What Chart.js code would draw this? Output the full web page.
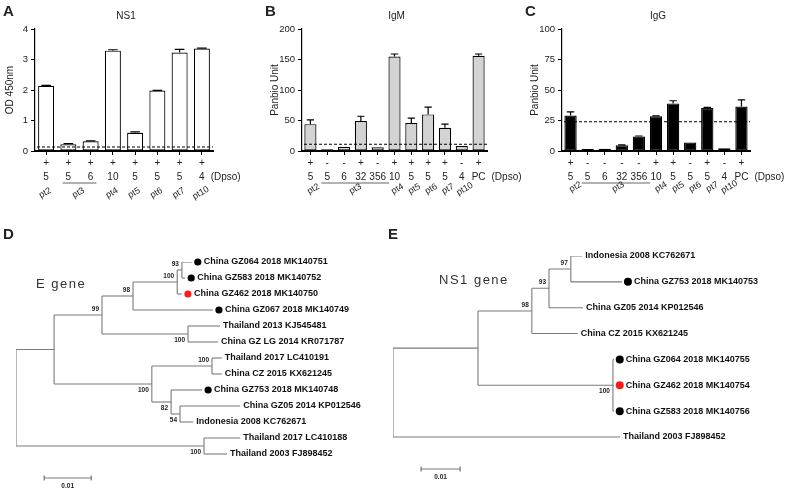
<!DOCTYPE html>
<html>
<head>
<meta charset="utf-8">
<script src="https://cdn.jsdelivr.net/npm/chart.js@4.4.0/dist/chart.umd.min.js"></script>
<style>
  body { margin: 0; background: #fff; width: 789px; height: 492px; position: relative; overflow: hidden; }
  canvas { position: absolute; }
</style>
</head>
<body>
<canvas id="chartA" width="262" height="215" style="left:0;top:0"></canvas>
<canvas id="chartB" width="275" height="215" style="left:262px;top:0"></canvas>
<canvas id="chartC" width="267" height="215" style="left:522px;top:0"></canvas>
<canvas id="treeD" width="390" height="272" style="left:0;top:220px"></canvas>
<canvas id="treeE" width="402" height="272" style="left:387px;top:220px"></canvas>
<script>
const FONT = '"Liberation Sans", Arial, sans-serif';
Chart.defaults.font.family = FONT;
Chart.defaults.color = '#222';

// ---- A: NS1 ----
const nsPatients = ['pt2', 'pt3', 'pt3', 'pt4', 'pt5', 'pt6', 'pt7', 'pt10'];
const nsDays = ['5', '5', '6', '10', '5', '5', '5', '4'];
const nsSigns = ['+', '+', '+', '+', '+', '+', '+', '+'];
const nsOD = [2.14, 0.22, 0.32, 3.29, 0.6, 1.98, 3.23, 3.36];
const nsErr = [0.01, 0.02, 0.01, 0.03, 0.03, 0.01, 0.1, 0.01];
const nsCutoff = 0.13;

// ---- B / C: antibodies ----
const abPatients = ['pt2', 'pt3', 'pt3', 'pt3', 'pt3', 'pt4', 'pt5', 'pt6', 'pt7', 'pt10', ''];
const abDays = ['5', '5', '6', '32', '356', '10', '5', '5', '5', '4', 'PC'];
const igmSigns = ['+', '-', '-', '+', '-', '+', '+', '+', '+', '-', '+'];
const igmUnits = [44, 3, 7, 49, 6, 155, 46, 60, 38, 8, 156];
const igmErr = [7, 0, 0, 8, 0, 4, 8, 12, 6, 0, 3];
const igmCutoff = 11;

const iggSigns = ['+', '-', '-', '-', '-', '+', '+', '-', '+', '-', '+'];
const iggUnits = [29, 1.6, 1.9, 4.7, 11.8, 28.5, 39, 7, 35.3, 2.2, 36.4];
const iggErr = [3, 0, 0, 0.3, 0.5, 0.3, 2.2, 0, 0.5, 0, 5.5];
const iggCutoff = 24;

// ---- D: E gene tree (leaves top to bottom, then internal nodes) ----
const eLeaves = ['China GZ064 2018 MK140751', 'China GZ583 2018 MK140752', 'China GZ462 2018 MK140750',
  'China GZ067 2018 MK140749', 'Thailand 2013 KJ545481', 'China GZ LG 2014 KR071787',
  'Thailand 2017 LC410191', 'China CZ 2015 KX621245', 'China GZ753 2018 MK140748',
  'China GZ05 2014 KP012546', 'Indonesia 2008 KC762671', 'Thailand 2017 LC410188', 'Thailand 2003 FJ898452'];
const eLeafMark = ['case', 'case', 'index', 'case', '', '', '', '', 'case', '', '', '', ''];
const eLeafDepth = [0.0374, 0.0360, 0.0353, 0.0419, 0.0434, 0.0430, 0.0438, 0.0438, 0.0396, 0.0477, 0.0377, 0.0477, 0.0449];
const eLeafParent = [18, 18, 17, 16, 19, 19, 21, 21, 22, 23, 23, 24, 24];
const eNodeDepth = [0, 0.0081, 0.0183, 0.0249, 0.0343, 0.0353, 0.0366, 0.0289, 0.0417, 0.0330, 0.0349, 0.0400];
const eNodeParent = [-1, 13, 14, 15, 16, 17, 15, 14, 20, 20, 22, 13];
const eBoot = [null, null, 99, 98, 100, 93, 100, 100, 100, 82, 54, 100];
const eBootSide = [0, 0, -1, -1, -1, -1, 1, 1, -1, 1, 1, 1];

// ---- E: NS1 gene tree ----
const nLeaves = ['Indonesia 2008 KC762671', 'China GZ753 2018 MK140753', 'China GZ05 2014 KP012546',
  'China CZ 2015 KX621245', 'China GZ064 2018 MK140755', 'China GZ462 2018 MK140754',
  'China GZ583 2018 MK140756', 'Thailand 2003 FJ898452'];
const nLeafMark = ['', 'case', '', '', 'case', 'index', 'case', ''];
const nLeafDepth = [0.0485, 0.0587, 0.0487, 0.0474, 0.0566, 0.0566, 0.0566, 0.0582];
const nLeafParent = [12, 12, 11, 10, 13, 13, 13, 8];
const nNodeDepth = [0, 0.0218, 0.0356, 0.0400, 0.0456, 0.0564];
const nNodeParent = [-1, 8, 9, 10, 11, 9];
const nBoot = [null, null, 98, 93, 97, 100];
const nBootSide = [0, 0, -1, -1, -1, 1];

const scaleBarLength = 0.01;

// draws error bars, cutoff line and all labels under the x axis
function barDecor(s) {
  return {
    id: 'barDecor',
    afterDatasetsDraw(chart) {
      const ctx = chart.ctx, a = chart.chartArea, ys = chart.scales.y;
      const bars = chart.getDatasetMeta(0).data;
      ctx.save();
      ctx.strokeStyle = '#000';
      ctx.lineWidth = 1.2;
      s.errors.forEach((e, i) => {
        if (!e) return;
        const b = bars[i];
        const yt = ys.getPixelForValue(s.values[i] + e);
        const w = b.width * 0.3;
        ctx.beginPath();
        ctx.moveTo(b.x, b.y);
        ctx.lineTo(b.x, yt);
        ctx.moveTo(b.x - w, yt);
        ctx.lineTo(b.x + w, yt);
        ctx.stroke();
      });
      const yc = ys.getPixelForValue(s.cutoff);
      ctx.setLineDash([3, 2]);
      ctx.lineWidth = 1.1;
      ctx.beginPath();
      ctx.moveTo(a.left + 2, yc);
      ctx.lineTo(a.right, yc);
      ctx.stroke();
      ctx.restore();
    },
    afterDraw(chart) {
      const ctx = chart.ctx, a = chart.chartArea;
      const bars = chart.getDatasetMeta(0).data;
      const y0 = a.bottom;
      ctx.save();
      ctx.fillStyle = '#222';
      // panel letter and title
      ctx.font = 'bold 15px ' + FONT;
      ctx.textAlign = 'left';
      ctx.textBaseline = 'alphabetic';
      ctx.fillText(s.letter, 3, 15.5);
      ctx.font = '10px ' + FONT;
      ctx.textAlign = 'center';
      ctx.fillText(s.title, (a.left + a.right) / 2 + 2, 18.5);
      // sign and day rows
      ctx.font = '10px ' + FONT;
      ctx.textBaseline = 'middle';
      s.signs.forEach((g, i) => ctx.fillText(g, bars[i].x, y0 + 12));
      s.days.forEach((d, i) => ctx.fillText(d, bars[i].x, y0 + 26));
      const last = bars.length - 1;
      ctx.textAlign = 'left';
      ctx.fillText('(Dpso)', bars[last].x + ctx.measureText(s.days[last]).width / 2 + 6, y0 + 26);
      // patient groups
      let i = 0;
      while (i < s.patients.length) {
        let j = i;
        while (j + 1 < s.patients.length && s.patients[j + 1] === s.patients[i]) j++;
        const name = s.patients[i];
        if (name) {
          ctx.font = '10px ' + FONT;
          if (j > i) {
            const x1 = bars[i].x - ctx.measureText(s.days[i]).width / 2 - 3;
            const x2 = bars[j].x + ctx.measureText(s.days[j]).width / 2 + 3;
            ctx.strokeStyle = '#666';
            ctx.lineWidth = 1;
            ctx.beginPath();
            ctx.moveTo(x1, y0 + 32);
            ctx.lineTo(x2, y0 + 32);
            ctx.stroke();
          }
          const cx = (bars[i].x + bars[j].x) / 2;
          ctx.save();
          ctx.translate(cx + s.ptDx, y0 + s.ptDy);
          ctx.rotate(-30 * Math.PI / 180);
          ctx.font = '9px ' + FONT;
          ctx.textAlign = 'center';
          ctx.fillText(name, 0, 0);
          ctx.restore();
        }
        i = j + 1;
      }
      ctx.restore();
    }
  };
}

function barChart(id, s) {
  return new Chart(document.getElementById(id), {
    type: 'bar',
    data: {
      labels: s.days,
      datasets: [{
        data: s.values,
        backgroundColor: s.fill,
        borderColor: '#000',
        borderWidth: 1.2,
        borderSkipped: false,
        barPercentage: 0.72,
        categoryPercentage: 1
      }]
    },
    options: {
      responsive: false,
      animation: false,
      layout: { padding: { left: 0, top: 29, right: s.padRight, bottom: 0 } },
      plugins: { legend: { display: false }, tooltip: { enabled: false } },
      scales: {
        x: {
          grid: { offset: false, drawOnChartArea: false, tickLength: 4, color: '#000' },
          border: { color: '#000', width: 2 },
          ticks: { display: false },
          afterFit: sc => { sc.height = 64; }
        },
        y: {
          min: 0,
          max: s.max,
          ticks: { stepSize: s.step, font: { size: 9.5 }, padding: 3 },
          grid: { drawOnChartArea: false, tickLength: 4, color: '#000' },
          border: { color: '#000', width: 1.2 },
          title: { display: true, text: s.yTitle, font: { size: 10 }, padding: { top: s.titlePad, bottom: 0 } },
          afterFit: sc => { sc.width = s.axisW; }
        }
      }
    },
    plugins: [barDecor(s)]
  });
}

barChart('chartA', {
  letter: 'A', title: 'NS1', yTitle: 'OD 450nm',
  patients: nsPatients, days: nsDays, signs: nsSigns,
  values: nsOD, errors: nsErr, cutoff: nsCutoff,
  max: 4, step: 1, fill: '#fff',
  axisW: 35, padRight: 49, titlePad: 4, ptDx: -1, ptDy: 42
});
barChart('chartB', {
  letter: 'B', title: 'IgM', yTitle: 'Panbio Unit',
  patients: abPatients, days: abDays, signs: igmSigns,
  values: igmUnits, errors: igmErr, cutoff: igmCutoff,
  max: 200, step: 50, fill: '#d3d3d3',
  axisW: 40, padRight: 50, titlePad: 7, ptDx: 3, ptDy: 38
});
barChart('chartC', {
  letter: 'C', title: 'IgG', yTitle: 'Panbio Unit',
  patients: abPatients, days: abDays, signs: iggSigns,
  values: iggUnits, errors: iggErr, cutoff: iggCutoff,
  max: 100, step: 25, fill: '#000',
  axisW: 40, padRight: 39, titlePad: 7, ptDx: 5, ptDy: 36
});

// ---- trees ----
function treeChart(id, t) {
  const nLeaf = t.leaves.length;
  const parent = t.leafParent.concat(t.nodeParent);
  const depth = t.leafDepth.concat(t.nodeDepth);
  const n = parent.length;
  const kids = Array.from({ length: n }, () => []);
  parent.forEach((p, i) => { if (p >= 0) kids[p].push(i); });
  const y = new Array(n);
  const place = i => {
    if (i < nLeaf) return (y[i] = i);
    const ky = kids[i].map(place);
    return (y[i] = (Math.min(...ky) + Math.max(...ky)) / 2);
  };
  place(parent.indexOf(-1));

  const segs = [];
  for (let i = 0; i < n; i++) {
    if (parent[i] >= 0) segs.push([{ x: depth[parent[i]], y: y[i] }, { x: depth[i], y: y[i] }]);
    if (kids[i].length) {
      const ky = kids[i].map(k => y[k]);
      segs.push([{ x: depth[i], y: Math.min(...ky) }, { x: depth[i], y: Math.max(...ky) }]);
    }
  }
  segs.push([{ x: t.sbX, y: t.sbY }, { x: t.sbX + scaleBarLength, y: t.sbY }]);
  const datasets = segs.map(d => ({
    data: d, showLine: true, borderColor: '#7a7a7a', borderWidth: 1.1, pointRadius: 0
  }));

  const decor = {
    id: 'treeDecor',
    afterDatasetsDraw(chart) {
      const ctx = chart.ctx, xs = chart.scales.x, ys = chart.scales.y;
      ctx.save();
      ctx.textBaseline = 'middle';
      t.leaves.forEach((name, i) => {
        const px = xs.getPixelForValue(depth[i]), py = ys.getPixelForValue(y[i]);
        let tx = px + 3;
        if (t.leafMark[i]) {
          ctx.fillStyle = t.leafMark[i] === 'index' ? '#ff1a1a' : '#000';
          ctx.beginPath();
          ctx.arc(px + 6, py, t.dotR, 0, Math.PI * 2);
          ctx.fill();
          tx = px + 12;
        }
        ctx.fillStyle = '#111';
        ctx.font = 'bold 9px ' + FONT;
        ctx.textAlign = 'left';
        ctx.fillText(name, tx, py);
      });
      ctx.font = 'bold 6.5px ' + FONT;
      ctx.textAlign = 'right';
      ctx.fillStyle = '#222';
      t.boot.forEach((b, k) => {
        if (b == null) return;
        const i = nLeaf + k;
        ctx.fillText(String(b), xs.getPixelForValue(depth[i]) - 3, ys.getPixelForValue(y[i]) + 6 * t.bootSide[k]);
      });
      // scale bar end ticks and label
      const sx1 = xs.getPixelForValue(t.sbX), sx2 = xs.getPixelForValue(t.sbX + scaleBarLength);
      const sy = ys.getPixelForValue(t.sbY);
      ctx.strokeStyle = '#555';
      ctx.lineWidth = 1;
      ctx.beginPath();
      ctx.moveTo(sx1, sy - 2.5); ctx.lineTo(sx1, sy + 2.5);
      ctx.moveTo(sx2, sy - 2.5); ctx.lineTo(sx2, sy + 2.5);
      ctx.stroke();
      ctx.textAlign = 'center';
      ctx.font = 'bold 6.5px ' + FONT;
      ctx.fillText(scaleBarLength.toFixed(2), (sx1 + sx2) / 2, sy + 8);
      // gene name and panel letter
      ctx.fillStyle = '#333';
      ctx.font = '13px ' + FONT;
      ctx.letterSpacing = '1.5px';
      ctx.textAlign = 'left';
      ctx.fillText(t.gene, t.geneX, t.geneY);
      ctx.letterSpacing = '0px';
      ctx.fillStyle = '#222';
      ctx.font = 'bold 15px ' + FONT;
      ctx.textBaseline = 'alphabetic';
      ctx.fillText(t.letter, t.letterX, 18.5);
      ctx.restore();
    }
  };

  return new Chart(document.getElementById(id), {
    type: 'scatter',
    data: { datasets },
    options: {
      responsive: false,
      animation: false,
      layout: { padding: t.pad },
      plugins: { legend: { display: false }, tooltip: { enabled: false } },
      scales: {
        x: { display: false, min: 0, max: t.xMax },
        y: { display: false, reverse: true, min: 0, max: t.yMax }
      }
    },
    plugins: [decor]
  });
}

treeChart('treeD', {
  letter: 'D', letterX: 3, gene: 'E gene', geneX: 36, geneY: 64,
  leaves: eLeaves, leafMark: eLeafMark, leafDepth: eLeafDepth, leafParent: eLeafParent,
  nodeDepth: eNodeDepth, nodeParent: eNodeParent, boot: eBoot, bootSide: eBootSide,
  pad: { left: 16, right: 0, top: 42, bottom: 6 }, xMax: 374 / 4700, yMax: 14,
  sbX: 0.006, sbY: 13.5, dotR: 3.6
});
treeChart('treeE', {
  letter: 'E', letterX: 1, gene: 'NS1 gene', geneX: 52, geneY: 60,
  leaves: nLeaves, leafMark: nLeafMark, leafDepth: nLeafDepth, leafParent: nLeafParent,
  nodeDepth: nNodeDepth, nodeParent: nNodeParent, boot: nBoot, bootSide: nBootSide,
  pad: { left: 6, right: 0, top: 36, bottom: 3.3 }, xMax: 396 / 3900, yMax: 9,
  sbX: 0.0072, sbY: 8.24, dotR: 4
});
</script>
</body>
</html>
